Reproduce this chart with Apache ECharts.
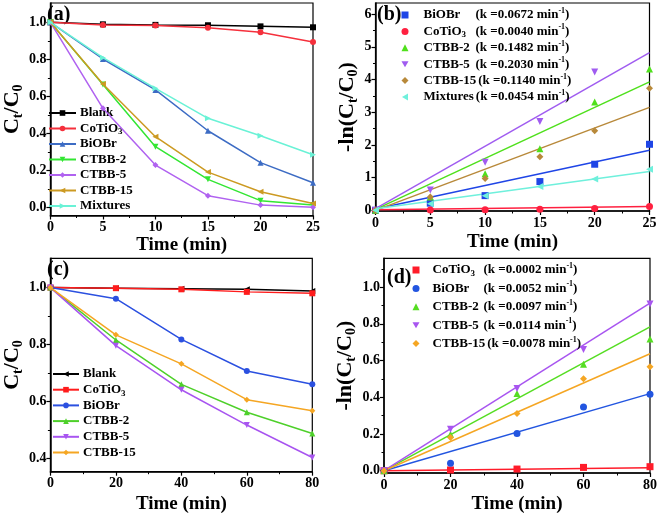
<!DOCTYPE html>
<html><head><meta charset="utf-8">
<script src="https://cdn.jsdelivr.net/npm/echarts@6/dist/echarts.min.js"></script>
<style>html,body{margin:0;padding:0;background:#fff}#c{width:660px;height:515px}</style>
</head><body><div id="c"></div>
<script>
// ---------- DATA ----------
// (a) Ct/C0 vs time
const timeA = [0, 5, 10, 15, 20, 25];
const namesA = ['Blank', 'CoTiO3', 'BiOBr', 'CTBB-2', 'CTBB-5', 'CTBB-15', 'Mixtures'];
const blankA   = [1.0, 0.989, 0.986, 0.984, 0.978, 0.973];
const cotio3A  = [1.0, 0.986, 0.982, 0.971, 0.946, 0.894];
const biobrA   = [1.0, 0.802, 0.635, 0.415, 0.243, 0.135];
const ctbb2A   = [1.0, 0.665, 0.329, 0.153, 0.038, 0.014];
const ctbb5A   = [1.0, 0.536, 0.230, 0.065, 0.014, 0.003];
const ctbb15A  = [1.0, 0.667, 0.383, 0.192, 0.086, 0.023];
const mixA     = [1.0, 0.809, 0.644, 0.482, 0.388, 0.286];

// (b) -ln(Ct/C0) vs time with linear fits
const timeB = [0, 5, 10, 15, 20, 25];
const namesB = ['BiOBr', 'CoTiO3', 'CTBB-2', 'CTBB-5', 'CTBB-15', 'Mixtures'];
const kB = ['0.0672', '0.0040', '0.1482', '0.2030', '0.1140', '0.0454'];
const biobrB  = [0, 0.22, 0.45, 0.88, 1.41, 2.02];
const cotio3B = [0, 0.01, 0.02, 0.03, 0.055, 0.12];
const ctbb2B  = [0, 0.41, 1.12, 1.88, 3.31, 4.32];
const ctbb5B  = [0, 0.62, 1.47, 2.72, 4.23, null];
const ctbb15B = [0, 0.41, 0.97, 1.64, 2.43, 3.73];
const mixB    = [0, 0.20, 0.45, 0.73, 0.96, 1.26];
const fitStartB = [0.04, 0.02, 0.03, 0.05, 0.00, 0.05];
const fitEndB   = [1.84, 0.12, 3.93, 4.82, 3.15, 1.19];

// (c) Ct/C0 vs time
const timeC = [0, 20, 40, 60, 80];
const namesC = ['Blank', 'CoTiO3', 'BiOBr', 'CTBB-2', 'CTBB-5', 'CTBB-15'];
const blankC   = [1.0, 0.998, 0.996, 0.994, 0.988];
const cotio3C  = [1.0, 0.998, 0.994, 0.985, 0.980];
const biobrC   = [1.0, 0.961, 0.818, 0.707, 0.660];
const ctbb2C   = [1.0, 0.816, 0.660, 0.562, 0.487];
const ctbb5C   = [1.0, 0.796, 0.641, 0.517, 0.403];
const ctbb15C  = [1.0, 0.834, 0.732, 0.606, 0.567];

// (d) -ln(Ct/C0) vs time with linear fits
const timeD = [0, 20, 40, 60, 80];
const namesD = ['CoTiO3', 'BiOBr', 'CTBB-2', 'CTBB-5', 'CTBB-15'];
const kD = ['0.0002', '0.0052', '0.0097', '0.0114', '0.0078'];
const cotio3D = [0, 0.004, 0.009, 0.018, 0.022];
const biobrD  = [0, 0.040, 0.203, 0.347, 0.416];
const ctbb2D  = [0, 0.199, 0.420, 0.580, 0.718];
const ctbb5D  = [0, 0.226, 0.448, 0.660, 0.908];
const ctbb15D = [0, 0.181, 0.311, 0.501, 0.566];
const fitStartD = [0, 0, 0, 0, 0];
const fitEndD   = [0.016, 0.420, 0.783, 0.913, 0.637];

// tick labels
const yTicksA = [0, 0.2, 0.4, 0.6, 0.8, 1.0];
const yTicksB = [0, 1, 2, 3, 4, 5, 6];
const yTicksC = [0.4, 0.6, 0.8, 1.0];
const yTicksD = [0, 0.2, 0.4, 0.6, 0.8, 1.0];

// ---------- STYLE ----------
const SERIF = '"Liberation Serif", "Times New Roman", serif';
const DOWN = 'path://M0,0L10,0L5,8.66Z';
const LEFT = 'path://M8.66,0L8.66,10L0,5Z';
const RIGHT = 'path://M0,0L0,10L8.66,5Z';

const dataA = [blankA, cotio3A, biobrA, ctbb2A, ctbb5A, ctbb15A, mixA];
const colA = ['#000000', '#f5303c', '#3d6cc4', '#33e633', '#b062f0', '#cc9a22', '#6af2d6'];
const symA = ['rect', 'circle', 'triangle', DOWN, 'diamond', LEFT, RIGHT];

const dataB = [biobrB, cotio3B, ctbb2B, ctbb5B, ctbb15B, mixB];
const colB = ['#1f45e6', '#ff2040', '#4fe01c', '#a05cf0', '#b8893a', '#6ff0dc'];
const symB = ['rect', 'circle', 'triangle', DOWN, 'diamond', LEFT];

const dataC = [blankC, cotio3C, biobrC, ctbb2C, ctbb5C, ctbb15C];
const colC = ['#000000', '#ff1c1c', '#2b50e0', '#4ed02a', '#a855f0', '#f5a623'];
const symC = [LEFT, 'rect', 'circle', 'triangle', DOWN, 'diamond'];

const dataD = [cotio3D, biobrD, ctbb2D, ctbb5D, ctbb15D];
const colD = ['#ff1c2a', '#2255e0', '#55dd22', '#a855f0', '#f5a623'];
const symD = ['rect', 'circle', 'triangle', DOWN, 'diamond'];

const LEG_FONT = 13;
const ctx = document.createElement('canvas').getContext('2d');
function tw(t, size) { ctx.font = 'bold ' + size + 'px "Liberation Serif"'; return ctx.measureText(t).width; }
function nameWidth(n) {
  if (n === 'CoTiO3') return tw('CoTiO', LEG_FONT) + tw('3', 9);
  return tw(n, LEG_FONT);
}
function subFmt(n) { return n === 'CoTiO3' ? 'CoTiO{s|3}' : n; }

const baseRich = {
  s: { fontSize: 9, fontFamily: SERIF, fontWeight: 'bold', color: '#000', verticalAlign: 'bottom', lineHeight: 10 },
  p: { fontSize: 8, fontFamily: SERIF, fontWeight: 'bold', color: '#000', verticalAlign: 'top', lineHeight: 8 }
};
function kRich(names, target) {
  const r = Object.assign({}, baseRich);
  names.forEach((n, i) => { r['g' + i] = { width: Math.max(2, target - nameWidth(n)), lineHeight: 16 }; });
  return r;
}

function seriesLines(prefix, names, xs, datas, cols, syms, xi, yi) {
  return names.map((n, i) => ({
    name: prefix + '|' + n, type: 'line', xAxisIndex: xi, yAxisIndex: yi,
    data: xs.map((x, j) => [x, datas[i][j]]),
    symbol: syms[i], symbolSize: 6, showSymbol: true,
    lineStyle: { color: cols[i], width: 1.5 },
    itemStyle: { color: cols[i] },
    z: 3 + i, animation: false
  }));
}
function seriesScatter(prefix, names, xs, datas, cols, syms, xi, yi) {
  return names.map((n, i) => ({
    name: prefix + '|' + n, type: 'scatter', xAxisIndex: xi, yAxisIndex: yi,
    data: xs.map((x, j) => [x, datas[i][j]]).filter(d => d[1] !== null),
    symbol: syms[i], symbolSize: 7,
    itemStyle: { color: cols[i], opacity: 1 },
    z: 5, animation: false
  }));
}
function seriesFits(prefix, names, xEnd, starts, ends, cols, xi, yi) {
  return names.map((n, i) => ({
    name: prefix + 'fit|' + n, type: 'line', xAxisIndex: xi, yAxisIndex: yi,
    data: [[0, starts[i]], [xEnd, ends[i]]],
    showSymbol: false, symbol: 'none',
    lineStyle: { color: cols[i], width: 1.5 },
    z: 3, animation: false
  }));
}

const axisLineS = { show: true, onZero: false, lineStyle: { color: '#000', width: 1.5 } };
const tickS = { color: '#000', width: 1.2 };
const labelS = { fontFamily: SERIF, fontWeight: 'bold', fontSize: 14, color: '#000' };

function xAx(grid, max, interval, gap) {
  return {
    type: 'value', gridIndex: grid, min: 0, max: max, interval: interval,
    axisLine: axisLineS,
    axisTick: { show: true, length: 4, lineStyle: tickS },
    minorTick: { show: true, splitNumber: 2, length: 2.5, lineStyle: { color: '#000', width: 1 } },
    splitLine: { show: false }, minorSplitLine: { show: false },
    axisLabel: Object.assign({ margin: 5 }, labelS),
    name: 'Time (min)', nameLocation: 'middle', nameGap: gap,
    nameTextStyle: { fontFamily: SERIF, fontWeight: 'bold', fontSize: 19, color: '#000' }
  };
}
function yAx(grid, min, max, ticks, dec, name, gap) {
  return {
    type: 'value', gridIndex: grid, min: min, max: max, position: 'left',
    axisLine: axisLineS,
    axisTick: { show: true, length: 4, lineStyle: tickS, customValues: ticks },
    splitLine: { show: false },
    axisLabel: Object.assign({ margin: 4, customValues: ticks, formatter: v => Number(v).toFixed(dec) }, labelS),
    name: name, nameLocation: 'middle', nameRotate: 90, nameGap: gap,
    nameTextStyle: {
      color: '#000',
      rich: {
        m: { fontFamily: SERIF, fontWeight: 'bold', fontSize: 22, color: '#000', lineHeight: 26 },
        s: { fontFamily: SERIF, fontWeight: 'bold', fontSize: 14, color: '#000', verticalAlign: 'bottom', lineHeight: 14 }
      }
    }
  };
}
function yMinor(grid, min, max, minors) {
  return {
    type: 'value', gridIndex: grid, min: min, max: max, position: 'left', offset: 0,
    axisLine: { show: false }, splitLine: { show: false },
    axisLabel: { show: false },
    axisTick: { show: true, length: 2.5, lineStyle: { color: '#000', width: 1 }, customValues: minors }
  };
}

const CT = '{m|C}{s|t}{m|/C}{s|0}';
const LN = '{m|-ln(C}{s|t}{m|/C}{s|0}{m|)}';

const gridS = { show: true, borderColor: '#000', borderWidth: 1.2, backgroundColor: 'transparent', containLabel: false };

const series = [].concat(
  seriesLines('a', namesA, timeA, dataA, colA, symA, 0, 0),
  seriesFits('b', namesB, 25, fitStartB, fitEndB, colB, 1, 2),
  seriesScatter('b', namesB, timeB, dataB, colB, symB, 1, 2),
  seriesLines('c', namesC, timeC, dataC, colC, symC, 2, 4),
  seriesFits('d', namesD, 80, fitStartD, fitEndD, colD, 3, 6),
  seriesScatter('d', namesD, timeD, dataD, colD, symD, 3, 6)
);

const legBase = { orient: 'vertical', align: 'left', padding: 0, selectedMode: false, inactiveColor: '#000' };
const legTextBase = { fontFamily: SERIF, fontWeight: 'bold', fontSize: LEG_FONT, color: '#000', lineHeight: 16 };

const option = {
  animation: false,
  backgroundColor: '#fff',
  grid: [
    Object.assign({ left: 45, top: 3, width: 268, height: 212.5 }, gridS),
    Object.assign({ left: 375.5, top: 3, width: 274, height: 208 }, gridS),
    Object.assign({ left: 45, top: 258.3, width: 267.3, height: 213.4 }, gridS),
    Object.assign({ left: 384, top: 258.3, width: 267.7, height: 215.7 }, gridS)
  ],
  xAxis: [
    xAx(0, 25, 5, 16),
    xAx(1, 25, 5, 22),
    xAx(2, 80, 20, 23),
    xAx(3, 80, 20, 22)
  ],
  yAxis: [
    yAx(0, -0.042, 1.104, yTicksA, 1, CT, 22),
    yMinor(0, -0.042, 1.104, [0.1, 0.3, 0.5, 0.7, 0.9]),
    yAx(1, -0.02, 6.34, yTicksB, 0, LN, 10),
    yMinor(1, -0.02, 6.34, [0.5, 1.5, 2.5, 3.5, 4.5, 5.5]),
    yAx(2, 0.353, 1.103, yTicksC, 1, CT, 24),
    yMinor(2, 0.353, 1.103, [0.5, 0.7, 0.9]),
    yAx(3, -0.0125, 1.157, yTicksD, 1, LN, 26),
    yMinor(3, -0.0125, 1.157, [0.1, 0.3, 0.5, 0.7, 0.9, 1.1])
  ],
  legend: [
    Object.assign({}, legBase, {
      left: 48, top: 105, itemWidth: 27, itemHeight: 7, itemGap: -0.5,
      data: namesA.map(n => 'a|' + n),
      formatter: n => subFmt(n.split('|')[1]),
      textStyle: Object.assign({ padding: [0, 0, 0, -1], rich: baseRich }, legTextBase)
    }),
    Object.assign({}, legBase, {
      left: 401.5, top: 7, itemWidth: 7, itemHeight: 7, itemGap: 0.4,
      data: namesB.map(n => 'b|' + n),
      formatter: n => { const nm = n.split('|')[1]; const i = namesB.indexOf(nm); return subFmt(nm) + '{g' + i + '|}(k =' + kB[i] + ' min{p|-1})'; },
      textStyle: Object.assign({ padding: [0, 0, 0, 10], rich: kRich(namesB, 52) }, legTextBase)
    }),
    Object.assign({}, legBase, {
      left: 52, top: 366, itemWidth: 26, itemHeight: 7, itemGap: -0.3,
      data: namesC.map(n => 'c|' + n),
      formatter: n => subFmt(n.split('|')[1]),
      textStyle: Object.assign({ padding: [0, 0, 0, -1], rich: baseRich }, legTextBase)
    }),
    Object.assign({}, legBase, {
      left: 412.5, top: 262, itemWidth: 7, itemHeight: 7, itemGap: 2.4,
      data: namesD.map(n => 'd|' + n),
      formatter: n => { const nm = n.split('|')[1]; const i = namesD.indexOf(nm); return subFmt(nm) + '{g' + i + '|}(k =' + kD[i] + ' min{p|-1})'; },
      textStyle: Object.assign({ padding: [0, 0, 0, 8], rich: kRich(namesD, 51) }, legTextBase)
    })
  ],
  graphic: [
    { type: 'text', left: 47, top: 5, style: { text: '(a)', font: 'bold 20px "Liberation Serif"', fill: '#000' } },
    { type: 'text', left: 377, top: 5, style: { text: '(b)', font: 'bold 20px "Liberation Serif"', fill: '#000' } },
    { type: 'text', left: 47, top: 260, style: { text: '(c)', font: 'bold 20px "Liberation Serif"', fill: '#000' } },
    { type: 'text', left: 387, top: 268, style: { text: '(d)', font: 'bold 20px "Liberation Serif"', fill: '#000' } }
  ],
  series: series
};

const chart = echarts.init(document.getElementById('c'), null, { renderer: 'canvas' });
chart.setOption(option);
</script>
</body></html>
